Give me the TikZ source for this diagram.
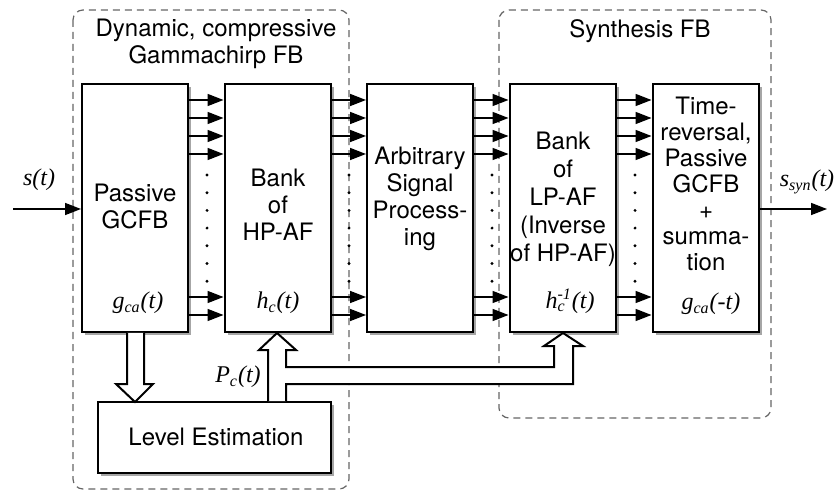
\documentclass[tikz,border=0pt]{standalone}
\usepackage{fontspec}
\setmainfont{TeX Gyre Heros}
\newfontfamily\tms{Liberation Serif}
\usetikzlibrary{arrows.meta,shadows}
\begin{document}
\begin{tikzpicture}[x=0.5pt,y=-0.5pt,
  blk/.style={draw,line width=1pt,fill=white,inner sep=0pt,
    drop shadow={shadow xshift=1.5pt,shadow yshift=-1.5pt,fill=black,opacity=.35}},
  tall/.style={blk,minimum width=53pt,minimum height=124pt},
  txt/.style={align=center,inner sep=0pt,font=\fontsize{12}{13.5}\selectfont},
  txtb/.style={align=center,inner sep=0pt,font=\fontsize{12}{13}\selectfont},
  mth/.style={inner sep=0pt,font=\fontsize{12}{13}\tms\itshape},
  sarr/.style={line width=0.8pt,-{Triangle[length=8pt,width=6pt]}},
  grp/.style={draw=black!60,line width=0.6pt,dash pattern=on 3.5pt off 2.5pt,rounded corners=5pt},
  hol/.style={draw,line width=1pt,fill=white,line join=miter},
  dot/.style={circle,fill=black,inner sep=0pt,minimum size=1.6pt}]
\useasboundingbox (0,0) rectangle (834,491);
% group frames
\draw[grp] (73,10) rectangle (349,489);
\draw[grp] (499,10) rectangle (771,418);
\node[txt] (t1) at (216,44) {Dynamic, compressive\\Gammachirp FB};
\node[txt] (t2) at (640,31) {Synthesis FB};
% boxes
\node[tall] (gc) at (135,208) {};
\node[tall] (hp) at (277.5,208) {};
\node[tall] (asp) at (420,208) {};
\node[tall] (lp) at (562.5,208) {};
\node[tall] (tr) at (705.5,208) {};
\node[blk,minimum width=116.5pt,minimum height=35.5pt] (le) at (214.5,437.5) {};
% texts
\node[txt] (gctxt) at (135,206) {Passive\\GCFB};
\node[txt] (hptxt) at (278,205) {Bank\\of\\HP-AF};
\node[txt] (asptxt) at (420,199) {Arbitrary\\Signal\\Process-\\ing};
\node[txt,font=\fontsize{12}{14}\selectfont] (lptxt) at (563,199) {Bank\\of\\LP-AF\\(Inverse\\of HP-AF)};
\node[txtb] (trtxt) at (706,184) {Time-\\reversal,\\Passive\\GCFB\\+\\summa-\\tion};
\node[txt] (letxt) at (216,437) {Level Estimation};
\node[mth] (g1) at (138,303) {g\textsubscript{ca}(t)};
\node[mth] (h1) at (278,303) {h\textsubscript{c}(t)};
\node[mth] (h2) at (570,301) {h\rlap{\textsubscript{c}}\textsuperscript{-1}(t)};
\node[mth] (g2) at (711,304) {g\textsubscript{ca}(-t)};
\node[mth] (pc) at (238,377) {P\textsubscript{c}(t)};
\node[mth] (sin) at (39,180) {s(t)};
\node[mth] (sout) at (807,182) {s\textsubscript{syn}(t)};
% channel arrows
\foreach \a/\b/\dx in {gc/hp/207,hp/asp/349,asp/lp/492,lp/tr/635}{
  \foreach \y in {100,118,136,154,297,315}
    \draw[sarr] (\a.east |- 0,\y) -- (\b.west |- 0,\y);
  \foreach \k in {0,...,6}
    \node[dot] at (\dx,175+17.7*\k) {};
}
% input / output
\coordinate (in) at (13,209);
\coordinate (out) at (827,209);
\draw[sarr] (in) -- (gc.west |- in);
\draw[sarr] (tr.east |- out) -- (out);
% hollow arrows
\filldraw[hol] (gc.south -| 127,0) -- (127,384) -- (116,384) -- (135,402) -- (153,384) -- (144,384) -- (gc.south -| 144,0);
\filldraw[hol] (le.north -| 268,0) -- (268,350) -- (259,350) -- (277,333) -- (296,350) -- (286,350)
  -- (286,367) -- (554,367) -- (554,346) -- (544,346) -- (563,333) -- (583,346) -- (573,346)
  -- (573,384) -- (286,384) -- (le.north -| 286,0);
\end{tikzpicture}
\end{document}
